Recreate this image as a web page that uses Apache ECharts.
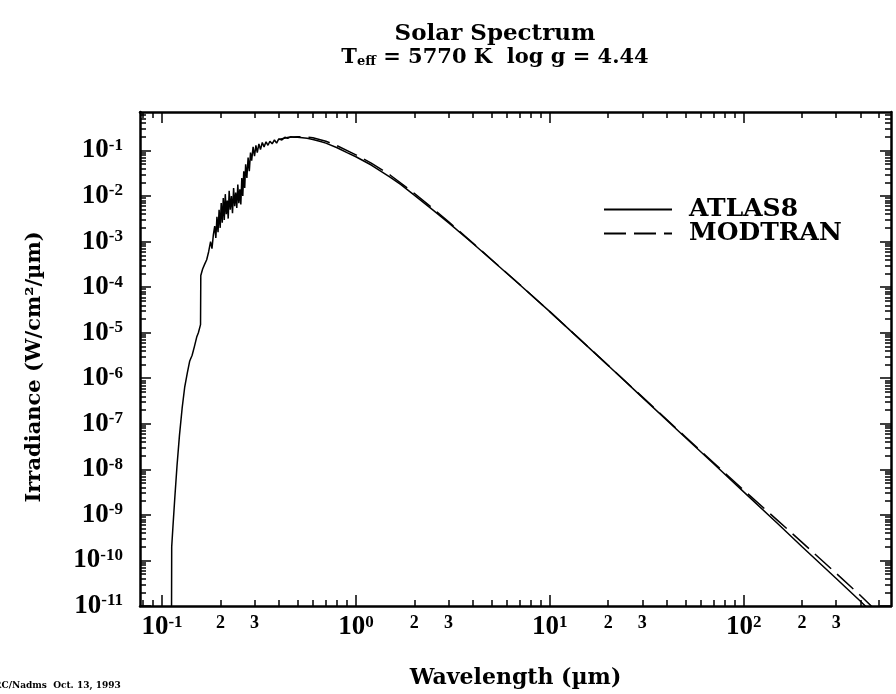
<!DOCTYPE html>
<html><head><meta charset="utf-8">
<script src="https://cdn.jsdelivr.net/npm/echarts@6/dist/echarts.min.js"></script>
<style>html,body{margin:0;padding:0;background:#fff}#c{width:896px;height:694px}</style>
</head><body><div id="c"></div>
<script>
// ---- data ----
const atlasWavelength = [0.1120,0.1122,0.1140,0.1165,0.1195,0.1230,0.1270,0.1310,0.1350,0.1390,0.1430,0.1470,0.1510,0.1540,0.1580,0.1585,0.1620,0.1660,0.1700,0.1740,0.1780,0.1810,0.1840,
0.1870,0.1895,0.1920,0.1945,0.1970,0.1995,0.2020,0.2045,0.2070,0.2095,0.2120,0.2145,0.2170,0.2195,0.2220,0.2250,0.2280,0.2310,0.2340,0.2370,0.2400,0.2430,0.2460,0.2490,0.2520,0.2550,0.2580,0.2610,0.2640,0.2670,0.2700,0.2740,0.2780,0.2820,0.2860,0.2900,0.2950,0.3000,0.3050,0.3100,0.3160,0.3220,0.3290,0.3360,0.3440,0.3520,0.3600,0.3700,0.3800,0.3900,0.4000,0.4150,0.4300,0.4450,0.4600,0.4800,0.5000,0.5300,0.5600,0.6000,0.6500,0.7000,0.8000,0.9000,1.0,1.2,1.5,1.7,2.0,2.5,3.0,4.0,5.0,7.0,10,15,20,30,50,70,100,150,200,300,400,450];
const atlasIrradiance = [1.0e-11,2.0e-10,6.0e-10,2.5e-9,1.2e-8,5.5e-8,2.2e-7,6.5e-7,1.3e-6,2.4e-6,3.2e-6,5.0e-6,8.0e-6,1.0e-5,1.5e-5,1.8e-4,2.5e-4,3.2e-4,4.0e-4,6.0e-4,1.0e-3,7.0e-4,1.4e-3,
2.2e-3,1.2e-3,3.5e-3,1.6e-3,5.0e-3,2.0e-3,7.0e-3,2.6e-3,9.0e-3,3.0e-3,1.1e-2,4.0e-3,8.0e-3,3.2e-3,1.3e-2,5.0e-3,1.0e-2,4.2e-3,1.5e-2,6.0e-3,1.2e-2,5.5e-3,1.8e-2,7.0e-3,1.4e-2,6.5e-3,2.5e-2,1.0e-2,3.5e-2,1.5e-2,5.0e-2,2.5e-2,7.0e-2,3.5e-2,9.0e-2,6.0e-2,1.2e-1,7.5e-2,1.3e-1,9.0e-2,1.4e-1,1.05e-1,1.5e-1,1.2e-1,1.55e-1,1.3e-1,1.6e-1,1.4e-1,1.7e-1,1.45e-1,1.8e-1,1.7e-1,1.95e-1,1.85e-1,2.0e-1,1.95e-1,1.95e-1,1.9e-1,1.85e-1,1.75e-1,1.6e-1,1.45e-1,1.15e-1,9.0e-2,7.3e-2,4.8e-2,2.6e-2,1.8e-2,1.05e-2,4.9e-3,2.6e-3,9.2e-4,4.0e-4,1.13e-4,2.9e-5,5.9e-6,1.9e-6,3.8e-7,5.0e-8,1.33e-8,3.2e-9,6.4e-10,2.0e-10,4.0e-11,1.27e-11,7.8e-12];
const modtranWavelength = [0.40,0.45,0.50,0.55,0.60,0.70,0.80,1.0,1.2,1.5,2.0,2.5,3.0,4.0,5.0,7.0,10,15,20,30,50,70,100,150,200,300,400,480];
const modtranIrradiance = [1.75e-1,1.95e-1,2.0e-1,1.98e-1,1.9e-1,1.6e-1,1.27e-1,8.0e-2,5.3e-2,2.9e-2,1.15e-2,5.3e-3,2.75e-3,9.4e-4,4.05e-4,1.14e-4,2.9e-5,5.95e-6,1.92e-6,3.9e-7,5.2e-8,1.4e-8,3.5e-9,7.5e-10,2.5e-10,5.2e-11,1.7e-11,8.0e-12];

// ---- tick labels ----
const xMajorTicks = [0.1, 1, 10, 100];
const xMinorLabelTicks = [0.2, 0.3, 2, 3, 20, 30, 200, 300];
const yMajorTicks = [1e-11,1e-10,1e-9,1e-8,1e-7,1e-6,1e-5,1e-4,1e-3,1e-2,1e-1];

const X_MIN = 0.077, X_MAX = 575, Y_MIN = 1e-11, Y_MAX = 0.7;
function minorTicks(lo, hi, dLo, dHi) {
  const out = [];
  for (let d = dLo; d <= dHi; d++) for (let k = 1; k <= 9; k++) {
    const v = k * Math.pow(10, d);
    if (v >= lo && v <= hi) out.push(v);
  }
  return out;
}
const xMinorTicks = minorTicks(X_MIN, X_MAX, -2, 2);
const yMinorTicks = minorTicks(Y_MIN, Y_MAX, -11, -1);

const FONT = "'DejaVu Serif', serif";
const NUMFONT = "'Liberation Serif', serif";
function powLabel(v) {
  const e = Math.log10(v), r = Math.round(e);
  if (Math.abs(e - r) < 1e-6) return '{b|10}{s|' + r + '}';
  return '{m|' + Math.round(v / Math.pow(10, Math.floor(e + 1e-9))) + '}';
}
const rich = {
  b: { fontFamily: NUMFONT, fontWeight: 'bold', fontSize: 27, color: '#000' },
  s: { fontFamily: NUMFONT, fontWeight: 'bold', fontSize: 17, color: '#000', verticalAlign: 'top' },
  m: { fontFamily: NUMFONT, fontWeight: 'bold', fontSize: 18, color: '#000' }
};
const lineBlack = { color: '#000', width: 2.5 };

function mkX(pos, major, showLine, withLabels) {
  return {
    type: 'log', gridIndex: 0, position: pos, min: X_MIN, max: X_MAX,
    axisLine: { show: showLine, onZero: false, lineStyle: lineBlack },
    axisTick: { show: true, inside: true, length: major ? 11 : 6, customValues: major ? xMajorTicks : xMinorTicks, lineStyle: { color: '#000', width: 1.5 } },
    axisLabel: withLabels ? { show: true, margin: 8, customValues: xMajorTicks.concat(xMinorLabelTicks), formatter: powLabel, rich: rich } : { show: false },
    splitLine: { show: false },
    name: withLabels ? 'Wavelength (\u00b5m)' : '',
    nameLocation: 'middle', nameGap: 61,
    nameTextStyle: { fontFamily: FONT, fontWeight: 'bold', fontSize: 22, color: '#000' }
  };
}
function mkY(pos, major, showLine, withLabels) {
  return {
    type: 'log', gridIndex: 0, position: pos, min: Y_MIN, max: Y_MAX,
    axisLine: { show: showLine, onZero: false, lineStyle: lineBlack },
    axisTick: { show: true, inside: true, length: major ? 11 : 6, customValues: major ? yMajorTicks : yMinorTicks, lineStyle: { color: '#000', width: 1.5 } },
    axisLabel: withLabels ? { show: true, margin: 17, customValues: yMajorTicks, formatter: powLabel, rich: rich } : { show: false },
    splitLine: { show: false },
    name: withLabels ? 'Irradiance (W/cm\u00b2/\u00b5m)' : '',
    nameLocation: 'middle', nameGap: 95, nameRotate: 90,
    nameTextStyle: { fontFamily: FONT, fontWeight: 'bold', fontSize: 21, color: '#000', padding: [0, 16, 0, 0] }
  };
}

const chart = echarts.init(document.getElementById('c'), null, { renderer: 'canvas' });
chart.setOption({
  backgroundColor: '#fff',
  animation: false,
  title: {
    text: 'Solar Spectrum',
    subtext: '{a|T}{e|eff}{a| = 5770 K  log g = 4.44}',
    left: 490, top: 18, textAlign: 'center', itemGap: 1,
    textStyle: { fontFamily: FONT, fontWeight: 'bold', fontSize: 23, color: '#000' },
    subtextStyle: { rich: {
      a: { fontFamily: FONT, fontWeight: 'bold', fontSize: 21, color: '#000' },
      e: { fontFamily: FONT, fontWeight: 'bold', fontSize: 13, color: '#000', verticalAlign: 'bottom' }
    } }
  },
  legend: {
    orient: 'vertical', left: 598, top: 192, itemWidth: 68, itemHeight: 14, itemGap: -1,
    itemStyle: { color: 'rgba(0,0,0,0)', borderColor: 'rgba(0,0,0,0)', borderWidth: 0 },
    textStyle: { fontFamily: FONT, fontWeight: 'bold', fontSize: 25, lineHeight: 19, color: '#000', padding: [0, 0, 0, 12] },
    data: ['ATLAS8', 'MODTRAN']
  },
  grid: { left: 140, right: 5, top: 112, bottom: 87, containLabel: false },
  xAxis: [mkX('bottom', false, true, true), mkX('bottom', true, false, false), mkX('top', false, true, false), mkX('top', true, false, false)],
  yAxis: [mkY('left', false, true, true), mkY('left', true, false, false), mkY('right', false, true, false), mkY('right', true, false, false)],
  graphic: [{ type: 'text', left: -6, top: 681, style: { text: 'RC/Nadms  Oct. 13, 1993', fontFamily: FONT, fontWeight: 'bold', fontSize: 9, fill: '#000' } }],
  series: [
    { name: 'ATLAS8', type: 'line', xAxisIndex: 0, yAxisIndex: 0, showSymbol: false, symbol: 'none',
      lineStyle: { color: '#000', width: 1.5, type: 'solid' }, itemStyle: { color: '#000' },
      data: atlasWavelength.map((w, i) => [w, atlasIrradiance[i]]) },
    { name: 'MODTRAN', type: 'line', xAxisIndex: 0, yAxisIndex: 0, showSymbol: false, symbol: 'none',
      lineStyle: { color: '#000', width: 1.5, type: [22, 8] }, itemStyle: { color: '#000' },
      data: modtranWavelength.map((w, i) => [w, modtranIrradiance[i]]) }
  ]
});
</script></body></html>
